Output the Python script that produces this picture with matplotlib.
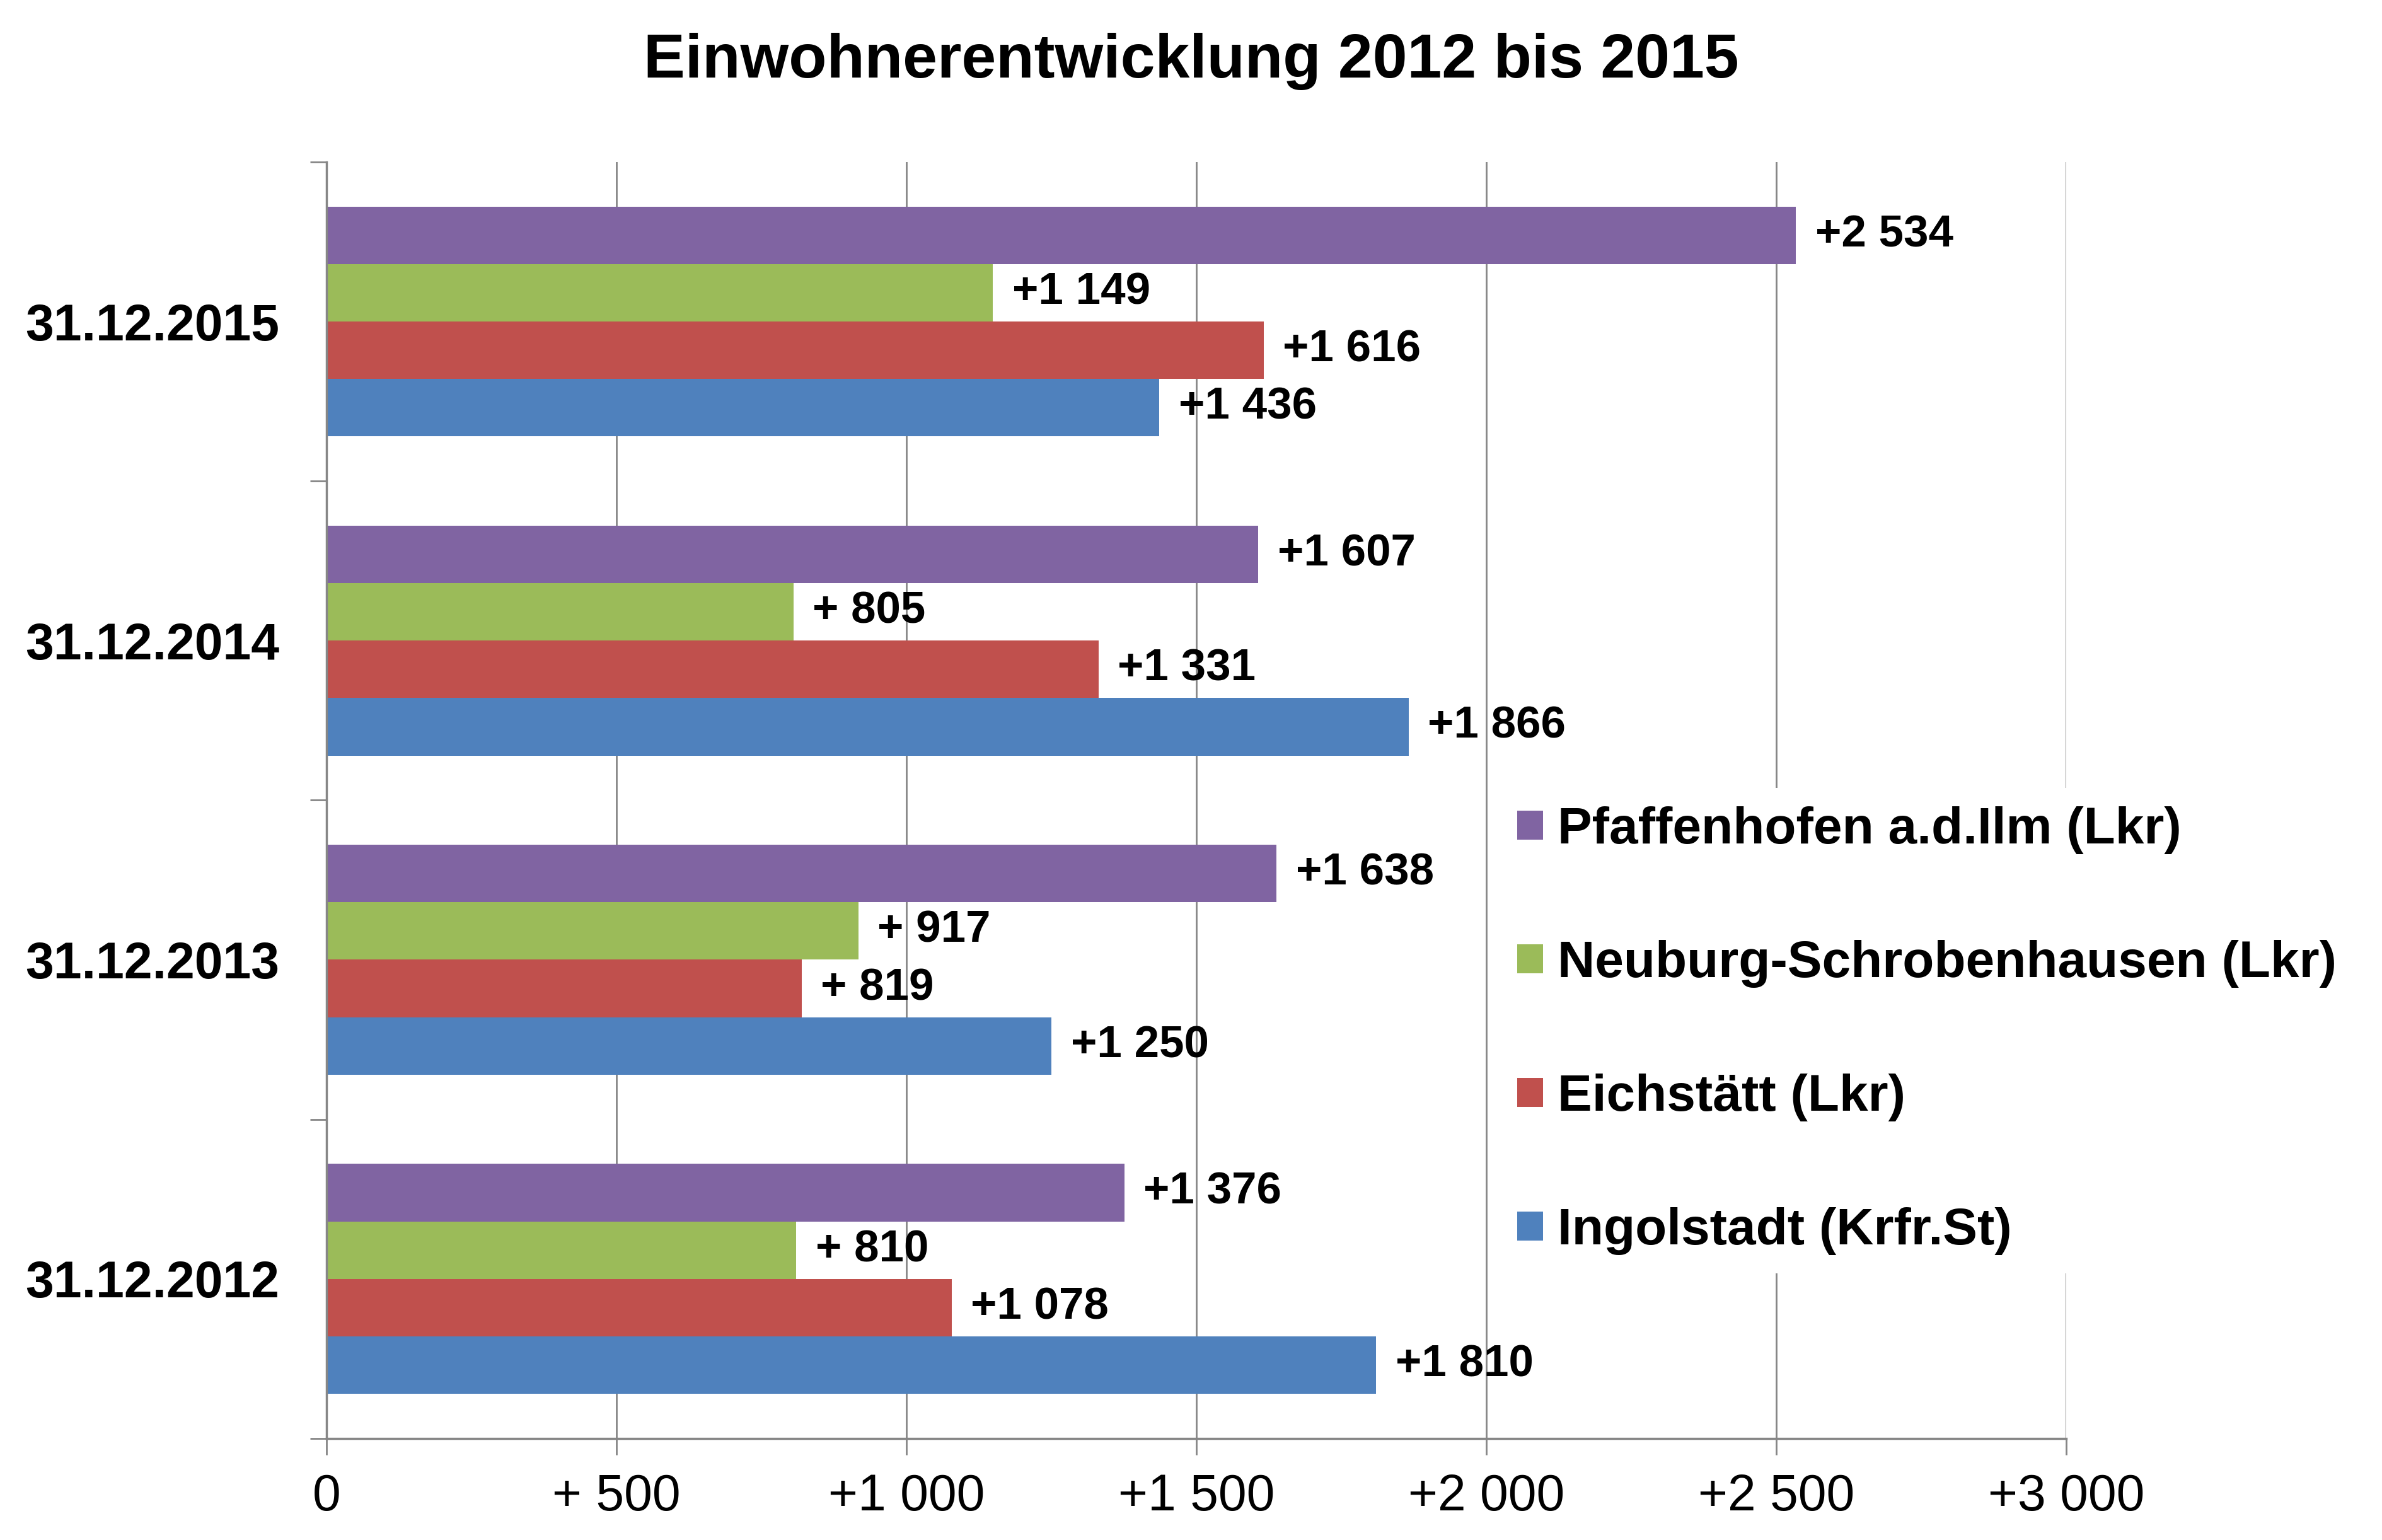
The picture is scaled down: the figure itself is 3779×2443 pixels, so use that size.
import numpy as np
import matplotlib
matplotlib.use("Agg")
import matplotlib.pyplot as plt

# data
dates = ["31.12.2012", "31.12.2013", "31.12.2014", "31.12.2015"]
series = ["Ingolstadt (Krfr.St)", "Eichstätt (Lkr)",
          "Neuburg-Schrobenhausen (Lkr)", "Pfaffenhofen a.d.Ilm (Lkr)"]
ingolstadt = [1810, 1250, 1866, 1436]
eichstaett = [1078, 819, 1331, 1616]
neuburg = [810, 917, 805, 1149]
pfaffenhofen = [1376, 1638, 1607, 2534]
x_ticks = [0, 500, 1000, 1500, 2000, 2500, 3000]

colors = ["#4F81BD", "#C0504D", "#9BBB59", "#8064A2"]
grid_col = "#868686"

plt.rcParams['font.family'] = ['Liberation Sans', 'DejaVu Sans']


def fmt(v):
    # Excel style "+# ##0"
    if v == 0:
        return "0"
    th, rest = divmod(v, 1000)
    if th:
        return "+%d %03d" % (th, rest)
    return "+ %d" % rest


fig = plt.figure(figsize=(37.79, 24.43), dpi=100)
ax = fig.add_axes([0.1371, 0.066, 0.8674 - 0.1371, 0.8948 - 0.066])

y = np.arange(len(dates))
h = 0.18
offsets = [-1.5 * h, -0.5 * h, 0.5 * h, 1.5 * h]
bars = []
for vals, off, col, name in zip([ingolstadt, eichstaett, neuburg, pfaffenhofen],
                                offsets, colors, series):
    b = ax.barh(y + off, vals, height=h, color=col, label=name, zorder=3)
    bars.append(b)
    for yi, v in zip(y + off, vals):
        ax.annotate(fmt(v), (v, yi), xytext=(22, 0), textcoords="offset points",
                    va="center", ha="left", fontsize=51, fontweight="bold",
                    zorder=5)

ax.set_xlim(0, 3000)
ax.set_ylim(-0.5, len(dates) - 0.5)
ax.set_xticks(x_ticks)
ax.set_xticklabels([fmt(v) for v in x_ticks], fontsize=58)
ax.set_yticks(y)
ax.set_yticklabels(dates, fontsize=58, fontweight="bold")
ax.set_yticks(np.arange(-0.5, len(dates)), minor=True)

ax.tick_params(axis="y", which="major", length=0, pad=54)
ax.tick_params(axis="y", which="minor", length=19, width=2, color=grid_col)
ax.tick_params(axis="x", which="major", length=19, width=2, color=grid_col, pad=21)

ax.xaxis.grid(True, color=grid_col, linewidth=2, zorder=0)
ax.set_axisbelow(True)
for s in ["top", "right"]:
    ax.spines[s].set_visible(False)
for s in ["left", "bottom"]:
    ax.spines[s].set_color(grid_col)
    ax.spines[s].set_linewidth(2.5)
    ax.spines[s].set_zorder(4)

handles = bars[::-1]
leg = fig.legend(handles, series[::-1], loc="center left",
                 bbox_to_anchor=(2378 / 3779, 1 - 1635 / 2443),
                 prop={"size": 59, "weight": "bold"},
                 handlelength=0.5, handleheight=0.5, handletextpad=0.28,
                 labelspacing=1.66, frameon=True, fancybox=False,
                 borderpad=0.35, borderaxespad=0)
leg.get_frame().set_facecolor("white")
leg.get_frame().set_edgecolor("none")
leg.get_frame().set_alpha(1)

fig.text(0.5, 0.960, "Einwohnerentwicklung 2012 bis 2015", ha="center",
         va="center", fontsize=71, fontweight="bold")

fig.savefig("out.png", dpi=100, facecolor="white")
